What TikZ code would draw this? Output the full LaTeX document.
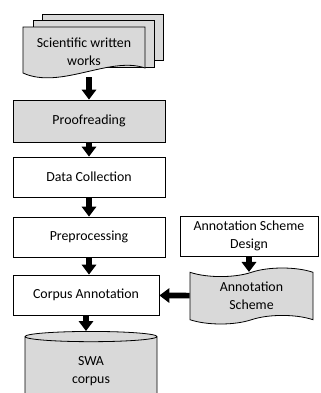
\documentclass[tikz,border=0pt]{standalone}
\usepackage{fontspec}
\setmainfont{Carlito}
\usetikzlibrary{shapes.geometric, shapes.symbols, positioning, arrows.meta}

\begin{document}
\begin{tikzpicture}[
    every node/.style={font=\fontsize{13.8}{18}\selectfont},
    box/.style={draw, line width=0.8pt, minimum height=1.4cm, align=center},
    shaded/.style={fill=black!15},
    arrow/.style={-{Triangle[width=0.5cm, length=0.35cm]}, line width=0.2cm}
]

    \useasboundingbox (0, 0) rectangle (11.235, -13.755);

    % ---- Scientific written works ----
    \draw[shaded, line width=0.8pt] (1.47, -0.49) rectangle (5.705, -2.1);
    \draw[shaded, line width=0.8pt] (1.155, -0.7) rectangle (5.39, -2.345);
    \draw[shaded, line width=0.8pt] (0.805, -2.555) -- (0.805, -0.945) -- (5.075, -0.945) -- (5.075, -2.38)
        .. controls (3.85, -1.95) and (2.1, -3.15) .. cycle;
    \node[align=center, minimum height=1.75cm] (works) at (2.94, -1.82) {Scientific written\\works};

    % ---- Proofreading ----
    \node[box, shaded, minimum width=5.32cm, minimum height=1.47cm] (proof) at (3.115, -4.235) {Proofreading};

    % ---- Data Collection ----
    \node[box, minimum width=5.32cm] (collect) at (3.115, -6.195) {Data Collection};

    % ---- Preprocessing ----
    \node[box, minimum width=5.32cm] (prep) at (3.115, -8.295) {Preprocessing};

    % ---- Annotation Scheme Design ----
    \node[box, minimum width=4.83cm] (design) at (8.715, -8.26) {Annotation Scheme\\Design};

    % ---- Corpus Annotation ----
    \node[box, minimum width=5.11cm] (annot) at (3.01, -10.325) {Corpus Annotation};

    % ---- Annotation Scheme ----
    \node[tape, draw, shaded, line width=0.8pt, align=center, minimum width=4.305cm, minimum height=1.96cm,
        tape bend height=0.3cm] (scheme) at (8.8025, -10.36) {Annotation\\Scheme};

    % ---- SWA corpus ----
    \node[cylinder, draw, shaded, line width=0.8pt, align=center, shape border rotate=90, aspect=0.23,
        minimum width=4.62cm, minimum height=2.55cm] (swa) at (3.185, -13.0) {SWA\\corpus};

    % ---- Flow ----
    \draw[arrow] (works.south -| proof) -- (proof);
    \draw[arrow] (proof) -- (collect);
    \draw[arrow] (collect) -- (prep);
    \draw[arrow] (prep) -- (prep |- annot.north);
    \draw[arrow] (annot) -- (annot |- swa.top);
    \draw[arrow] (design) -- (design |- scheme.north);
    \draw[arrow] (scheme) -- (annot);

\end{tikzpicture}
\end{document}
